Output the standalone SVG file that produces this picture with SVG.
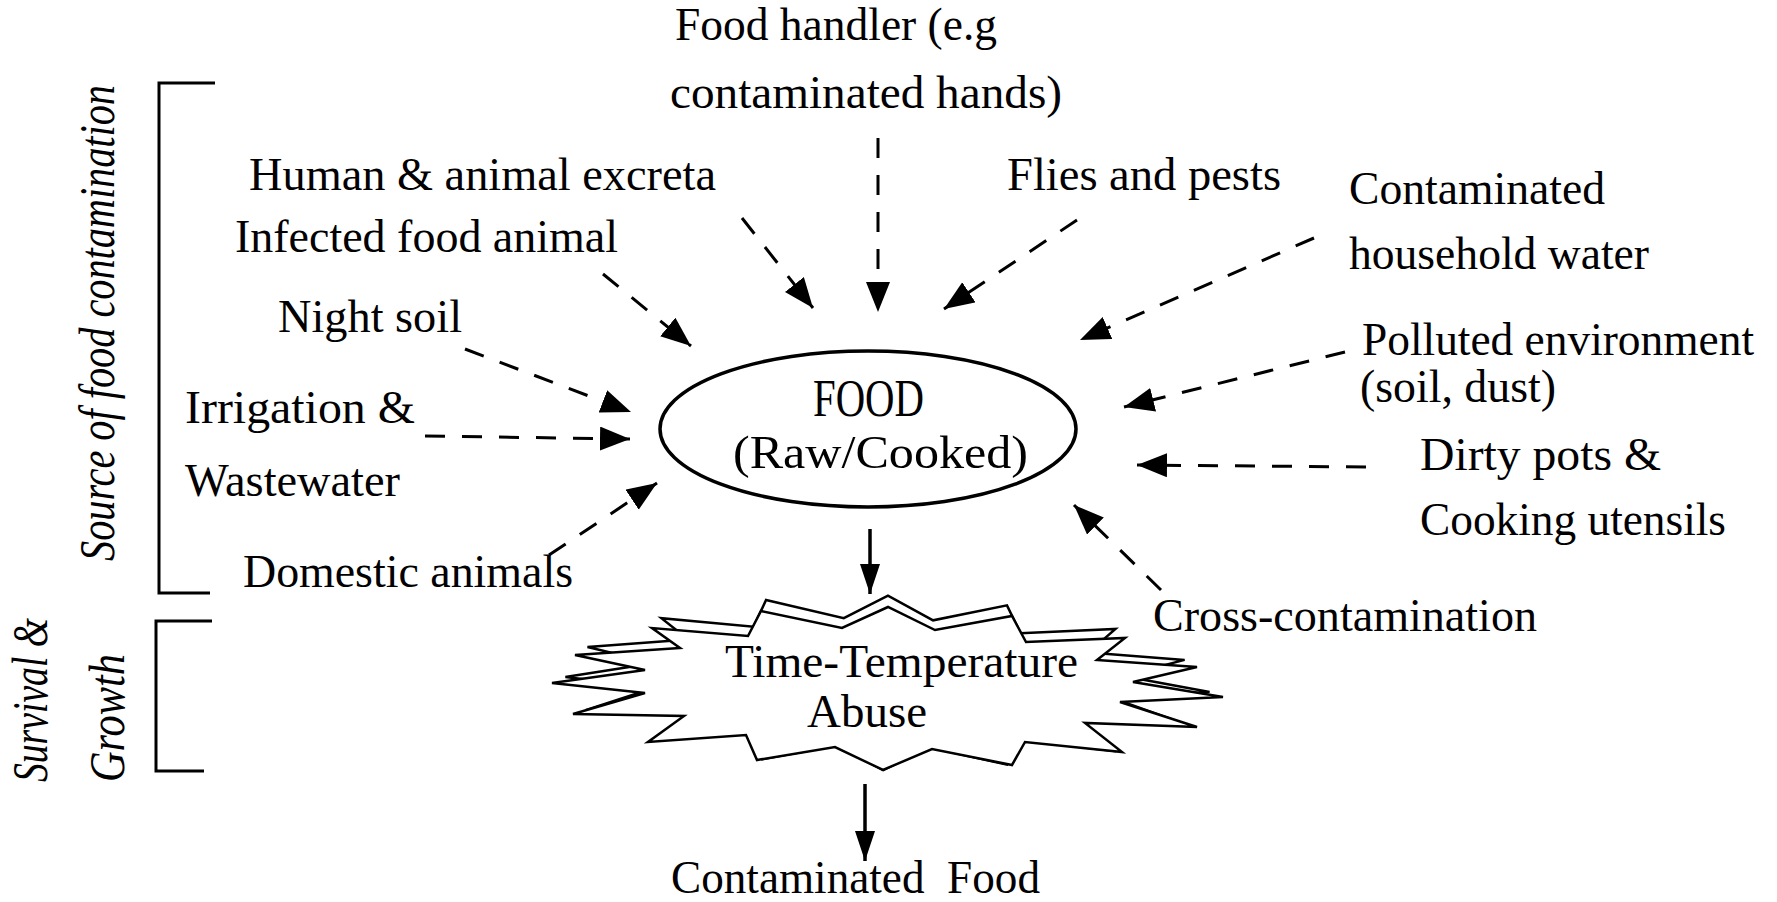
<svg xmlns="http://www.w3.org/2000/svg" width="1777" height="902" viewBox="0 0 1777 902">
<style>
.t { font-family: "Liberation Serif", "Times New Roman", serif; font-size: 47px; fill: #000; }
.big { font-size: 53px; }
.it { font-style: italic; font-size: 50px; }
.dash { stroke: #000; stroke-width: 3; stroke-dasharray: 20 17; fill: none; }
.solid { stroke: #000; stroke-width: 3.5; fill: none; }
.br { stroke: #000; stroke-width: 3; fill: none; }
.star { stroke: #000; stroke-width: 2.5; fill: #fff; stroke-linejoin: miter; }
</style>
<defs>
<marker id="ah" markerUnits="userSpaceOnUse" markerWidth="34" markerHeight="26" refX="30" refY="12" orient="auto">
<path d="M0,0 L30,12 L0,24 Z" fill="#000"/>
</marker>
<marker id="ahs" markerUnits="userSpaceOnUse" markerWidth="34" markerHeight="26" refX="30" refY="10" orient="auto">
<path d="M0,0 L30,10 L0,20 Z" fill="#000"/>
</marker>
</defs>
<rect width="1777" height="902" fill="#fff"/>

<g id="brackets">
<path class="br" d="M215,83 H159 V593 H210"/>
<path class="br" d="M212,621 H156 V771 H204"/>
<text class="t it" transform="translate(114,561) rotate(-90)" textLength="476" lengthAdjust="spacingAndGlyphs">Source of food contamination</text>
<text class="t it" transform="translate(47,782) rotate(-90)" textLength="164" lengthAdjust="spacingAndGlyphs">Survival &amp;</text>
<text class="t it" transform="translate(124,782) rotate(-90)" textLength="128" lengthAdjust="spacingAndGlyphs">Growth</text>
</g>

<g id="connectors">
<line class="dash" x1="878" y1="138" x2="878" y2="312" marker-end="url(#ah)"/>
<line class="dash" x1="742" y1="218" x2="813" y2="308" marker-end="url(#ah)"/>
<line class="dash" x1="603" y1="274" x2="691" y2="346" marker-end="url(#ah)"/>
<line class="dash" x1="465" y1="349" x2="631" y2="412" marker-end="url(#ah)"/>
<line class="dash" x1="425" y1="436" x2="630" y2="439" marker-end="url(#ah)"/>
<line class="dash" x1="549" y1="555" x2="657" y2="483" marker-end="url(#ah)"/>
<line class="dash" x1="1077" y1="220" x2="944" y2="309" marker-end="url(#ah)"/>
<line class="dash" x1="1314" y1="238" x2="1080" y2="340" marker-end="url(#ah)"/>
<line class="dash" x1="1345" y1="352" x2="1124" y2="407" marker-end="url(#ah)"/>
<line class="dash" x1="1366" y1="467" x2="1137" y2="465" marker-end="url(#ah)"/>
<line class="dash" x1="1161" y1="590" x2="1074" y2="505" marker-end="url(#ah)"/>
<line class="solid" x1="870" y1="529" x2="870" y2="594" marker-end="url(#ahs)"/>
<line class="solid" x1="865" y1="784" x2="865" y2="861" marker-end="url(#ahs)"/>
</g>

<g id="food">
<ellipse cx="868" cy="429" rx="208" ry="78" fill="#fff" stroke="#000" stroke-width="3.5"/>
<text class="t big" x="813" y="416" textLength="111" lengthAdjust="spacingAndGlyphs">FOOD</text>
<text class="t" x="733" y="468" textLength="295" lengthAdjust="spacingAndGlyphs">(Raw/Cooked)</text>
</g>

<g id="time-temperature-abuse">
<polygon class="star" transform="matrix(0.96 0 0 1.069 35.48 -53.13)" vector-effect="non-scaling-stroke" points="748,636 761,611 842,628 888,607 935,630 1012,616 1026,642 1125,638 1097,660 1197,667 1133,682 1223,697 1120,702 1197,727 1085,723 1122,752 1025,742 1012,765 932,749 883,770 835,747 757,760 746,735 648,742 684,716 573,714 645,693 552,683 645,670 575,655 680,648 652,628"/>
<polygon class="star" points="748,636 761,611 842,628 888,607 935,630 1012,616 1026,642 1125,638 1097,660 1197,667 1133,682 1223,697 1120,702 1197,727 1085,723 1122,752 1025,742 1012,765 932,749 883,770 835,747 757,760 746,735 648,742 684,716 573,714 645,693 552,683 645,670 575,655 680,648 652,628"/>
<text class="t" x="725" y="677" textLength="353" lengthAdjust="spacingAndGlyphs">Time-Temperature</text>
<text class="t" x="807" y="727" textLength="120" lengthAdjust="spacingAndGlyphs">Abuse</text>
</g>

<g id="sources" class="t" xml:space="preserve">
<text x="675" y="40" textLength="322" lengthAdjust="spacingAndGlyphs">Food handler (e.g</text>
<text x="670" y="108" textLength="392" lengthAdjust="spacingAndGlyphs">contaminated  hands)</text>
<text x="249" y="190" textLength="467" lengthAdjust="spacingAndGlyphs">Human &amp; animal excreta</text>
<text x="1007" y="190" textLength="274" lengthAdjust="spacingAndGlyphs">Flies and pests</text>
<text x="1349" y="204" textLength="256" lengthAdjust="spacingAndGlyphs">Contaminated</text>
<text x="1349" y="269" textLength="300" lengthAdjust="spacingAndGlyphs">household water</text>
<text x="235" y="252" textLength="383" lengthAdjust="spacingAndGlyphs">Infected food animal</text>
<text x="278" y="332" textLength="184" lengthAdjust="spacingAndGlyphs">Night soil</text>
<text x="1362" y="355" textLength="392" lengthAdjust="spacingAndGlyphs">Polluted environment</text>
<text x="1360" y="402" textLength="196" lengthAdjust="spacingAndGlyphs">(soil, dust)</text>
<text x="185" y="423" textLength="230" lengthAdjust="spacingAndGlyphs">Irrigation  &amp;</text>
<text x="185" y="496" textLength="215" lengthAdjust="spacingAndGlyphs">Wastewater</text>
<text x="1420" y="470" textLength="241" lengthAdjust="spacingAndGlyphs">Dirty pots  &amp;</text>
<text x="1420" y="535" textLength="306" lengthAdjust="spacingAndGlyphs">Cooking utensils</text>
<text x="243" y="587" textLength="330" lengthAdjust="spacingAndGlyphs">Domestic animals</text>
<text x="1153" y="631" textLength="384" lengthAdjust="spacingAndGlyphs">Cross-contamination</text>
</g>

<g id="contaminated-food">
<text class="t" x="671" y="893" textLength="369" lengthAdjust="spacingAndGlyphs" xml:space="preserve">Contaminated  Food</text>
</g>
</svg>
